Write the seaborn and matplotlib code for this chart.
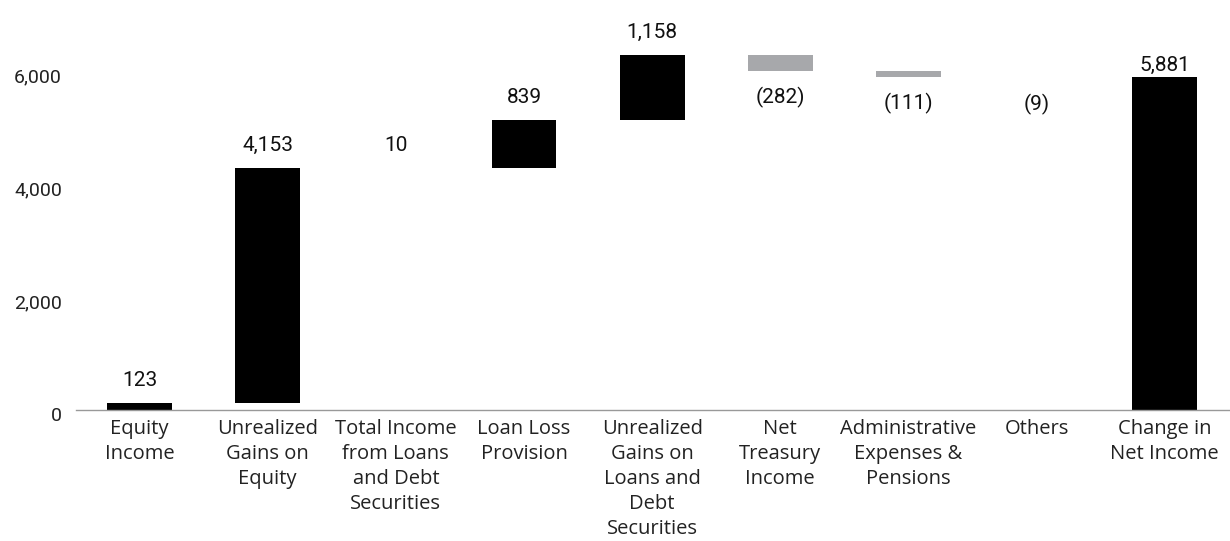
import numpy as np
import pandas as pd
import seaborn as sns
import matplotlib.pyplot as plt
import matplotlib.transforms as mtransforms

# waterfall steps, change in net income (last one is the total)
categories = ['Equity\nIncome', 'Unrealized\nGains on\nEquity', 'Total Income\nfrom Loans\nand Debt\nSecurities',
              'Loan Loss\nProvision', 'Unrealized\nGains on\nLoans and\nDebt\nSecurities', 'Net\nTreasury\nIncome',
              'Administrative\nExpenses &\nPensions', 'Others', 'Change in\nNet Income']
values = [123, 4153, 10, 839, 1158, -282, -111, -9, 5881]
value_labels = ['123', '4,153', '10', '839', '1,158', '(282)', '(111)', '(9)', '5,881']
is_total = [False] * 8 + [True]

POS = '#000000'
NEG = '#A7A8AB'

# build bar spans
bottoms = []
running = 0
for v, tot in zip(values, is_total):
    if tot:
        bottoms.append(0)
    else:
        bottoms.append(running)
        running += v
df = pd.DataFrame({'cat': categories, 'height': values, 'bottom': bottoms})

sns.set_style('white')
plt.rcParams['font.family'] = ['Open Sans', 'DejaVu Sans']

fig = plt.figure(figsize=(12.3, 5.41), dpi=100)
ax = fig.add_axes([0.0614, 0.2421, 0.9376, 0.7579])

sns.barplot(data=df, x='cat', y='height', bottom=df['bottom'].to_numpy(), errorbar=None,
            width=0.507, color=POS, ax=ax, linewidth=0)

for patch, v, tot in zip(ax.patches, values, is_total):
    patch.set_facecolor(POS if (v >= 0 or tot) else NEG)

for i, (v, b, lab, tot) in enumerate(zip(values, bottoms, value_labels, is_total)):
    if tot:
        off = 5
    elif v >= 0:
        off = 12.2
    else:
        off = -23.5
    ax.annotate(lab, (i, b + v), xytext=(0, off), textcoords='offset points',
                ha='center', va='baseline', fontsize=15, family='Roboto', color='#111111')

ax.set_ylim(0, 7250)
ax.set_xlim(-0.5, 8.5)
ax.set_yticks([0, 2000, 4000, 6000])
ax.set_yticklabels(['0', '2,000', '4,000', '6,000'], family='Roboto', fontsize=14, color='#222222')
ax.tick_params(axis='x', labelsize=14.5, colors='#222222', length=0, pad=6.5)
ax.tick_params(axis='y', length=0, pad=9.7)
for t in ax.get_xticklabels():
    t.set_linespacing(1.33)
shift = mtransforms.ScaledTranslation(0, -4.3 / 100, fig.dpi_scale_trans)
for t in ax.get_yticklabels():
    t.set_transform(t.get_transform() + shift)
ax.set_xlabel('')
ax.set_ylabel('')

sns.despine(ax=ax, left=True, top=True, right=True)
ax.spines['bottom'].set_color('#999999')
ax.spines['bottom'].set_linewidth(1)

fig.savefig('out.png', dpi=100)
